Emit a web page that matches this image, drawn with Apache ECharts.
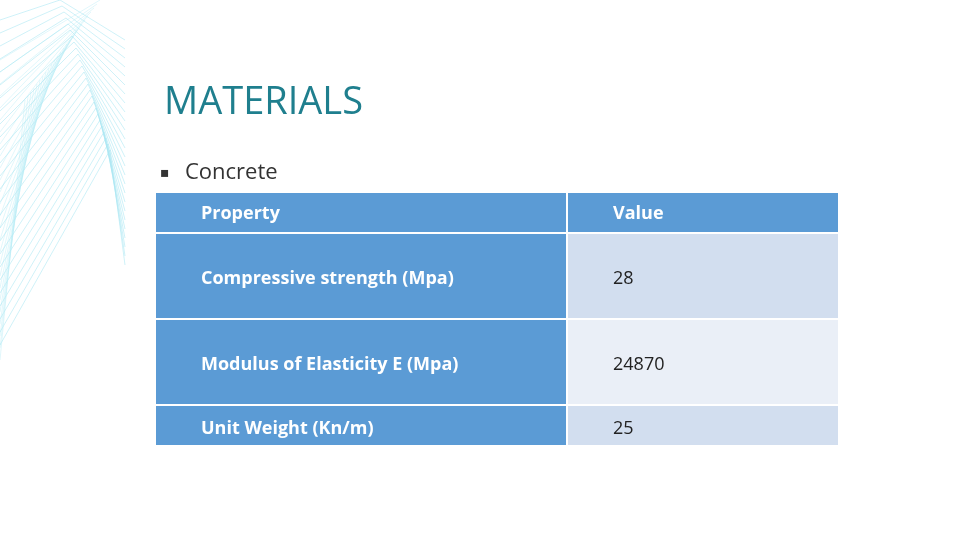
<!DOCTYPE html>
<html><head><meta charset="utf-8">
<script src="https://cdn.jsdelivr.net/npm/echarts@6/dist/echarts.min.js"></script>
<style>html,body{margin:0;padding:0;background:#fff}#c{width:960px;height:540px}</style>
</head><body><div id="c"></div>
<script>
const title = 'MATERIALS';
const bullet = 'Concrete';
const headers = ['Property', 'Value'];
const properties = ['Compressive strength (Mpa)', 'Modulus of Elasticity E (Mpa)', 'Unit Weight (Kn/m)'];
const values = ['28', '24870', '25'];

const chart = echarts.init(document.getElementById('c'));
const g = [];
for (let i = 0; i < 26; i++) {
  g.push({type:'polyline', silent:true, shape:{points:[[0, 20 + i*13],[60 + i*2, i*6],[125, 40 + i*9]]},
    style:{stroke:'#a8e6f2', lineWidth:0.7, fill:null, opacity:0.8}});
  g.push({type:'line', silent:true, shape:{x1:0, y1:60 + i*12, x2:100 - i*3, y2:i*4},
    style:{stroke:'#b8ecf5', lineWidth:0.6, opacity:0.7}});
}
g.push({type:'text', style:{text:title, x:164, y:84, fill:'#1f7f8e', font:'38px "Open Sans", sans-serif'}});
g.push({type:'text', style:{text:'▪', x:160, y:166, fill:'#333', font:'14px "DejaVu Sans", sans-serif'}});
g.push({type:'text', style:{text:bullet, x:185, y:162, fill:'#333', font:'22px "Open Sans", sans-serif'}});
const L = 156, M = 567, R = 838;
const rows = [[193,232],[234,318],[320,404],[406,445]];
const rightCols = ['#d2deef', '#eaeff7', '#d2deef'];
rows.forEach((r, i) => {
  const h = r[1]-r[0];
  const isH = i === 0;
  g.push({type:'rect', shape:{x:L, y:r[0], width:M-L-1, height:h}, style:{fill:'#5b9bd5'}});
  g.push({type:'rect', shape:{x:M+1, y:r[0], width:R-M-1, height:h}, style:{fill: isH ? '#5b9bd5' : rightCols[i-1]}});
  const t1 = isH ? headers[0] : properties[i-1];
  const t2 = isH ? headers[1] : values[i-1];
  const cy = (r[0]+r[1])/2 + (isH ? 1 : 3);
  g.push({type:'text', style:{text:t1, x:201, y:cy, verticalAlign:'middle', fill:'#fff', font:'bold 18px "Open Sans", sans-serif'}});
  g.push({type:'text', style:{text:t2, x:613, y:cy, verticalAlign:'middle', fill: isH ? '#fff' : '#222', font:(isH?'bold ':'')+'18px "Open Sans", sans-serif'}});
});
chart.setOption({graphic: g});
</script></body></html>
